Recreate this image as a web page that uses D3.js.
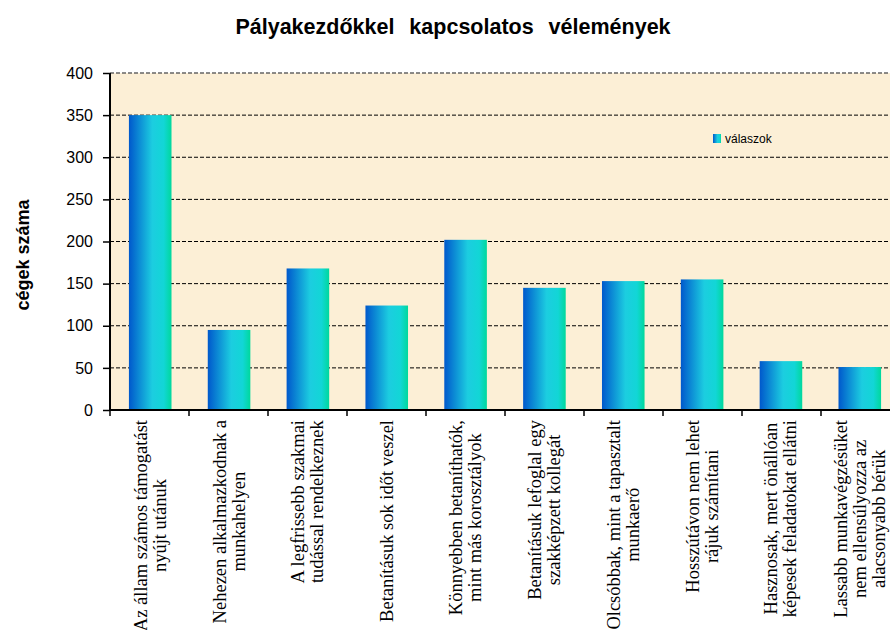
<!DOCTYPE html>
<html>
<head>
<meta charset="utf-8">
<script src="https://cdn.jsdelivr.net/npm/d3@7"></script>
<style>
    body { margin: 0; background: #fff; }
    svg { display: block; }
    .title { font-family: Arial, 'Liberation Sans', sans-serif; font-weight: bold; font-size: 21.5px; word-spacing: 9px; }
    .y-label { font-family: Arial, 'Liberation Sans', sans-serif; font-weight: bold; font-size: 18px; }
    .axis text { font-family: Arial, 'Liberation Sans', sans-serif; font-size: 16px; fill: #000; }
    .axis text.x-label { font-family: 'Times New Roman', 'Liberation Serif', serif; font-size: 18.5px; fill: #000; }
    .legend text { font-family: Arial, 'Liberation Sans', sans-serif; font-size: 12px; }
</style>
</head>
<body>
<svg id="chart" width="890" height="630"></svg>
<script>
/**
 * Data.
 */
const categories = [
    ['Az állam számos támogatást', 'nyújt utánuk'],
    ['Nehezen alkalmazkodnak a', 'munkahelyen'],
    ['A legfrissebb szakmai', 'tudással rendelkeznek'],
    ['Betanításuk sok időt veszel'],
    ['Könnyebben betaníthatók,', 'mint más korosztályok'],
    ['Betanításuk lefoglal egy', 'szakképzett kollegát'],
    ['Olcsóbbak, mint a tapasztalt', 'munkaerő'],
    ['Hosszútávon nem lehet', 'rájuk számítani'],
    ['Hasznosak, mert önállóan', 'képesek feladatokat ellátni'],
    ['Lassabb munkavégzésüket', 'nem ellensúlyozza az', 'alacsonyabb bérük']
];
const values = [350, 95, 168, 124, 202, 145, 153, 155, 58, 51];
const yTicks = [0, 50, 100, 150, 200, 250, 300, 350, 400];
const seriesName = 'válaszok';
const chartTitle = 'Pályakezdőkkel kapcsolatos vélemények';
const yTitle = 'cégek száma';

/**
 * Visual configs.
 */
const margin = { top: 73, right: -10, bottom: 220, left: 110 },
    visWidth = 890, visHeight = 630,
    width = visWidth - margin.left - margin.right,
    height = visHeight - margin.top - margin.bottom,
    lineHeight = 19;

const svg = d3.select('#chart');

// Bar gradient
const defs = svg.append('defs');
const grad = defs.append('linearGradient').attr('id', 'barGrad')
    .attr('x1', '0%').attr('x2', '100%').attr('y1', '0%').attr('y2', '0%');
grad.append('stop').attr('offset', '0%').attr('stop-color', '#0058cc');
grad.append('stop').attr('offset', '55%').attr('stop-color', '#1ccde0');
grad.append('stop').attr('offset', '82%').attr('stop-color', '#12d6d6');
grad.append('stop').attr('offset', '100%').attr('stop-color', '#00d89c');

/**
 * D3 scales.
 */
const xScale = d3.scaleBand()
    .domain(d3.range(values.length))
    .range([0, width])
    .paddingInner(0.46)
    .paddingOuter(0.24);
const yScale = d3.scaleLinear().domain([0, 400]).range([height, 0]);

const g = svg.append('g').attr('transform', 'translate(' + margin.left + ',' + margin.top + ')');

// Plot background
g.append('rect')
    .attr('width', width).attr('height', height)
    .attr('fill', '#fcefd6');

// Grid lines
g.append('g').attr('class', 'grid')
    .selectAll('line')
    .data(yTicks.filter(d => d > 0))
    .join('line')
    .attr('x1', 0).attr('x2', width)
    .attr('y1', d => yScale(d)).attr('y2', d => yScale(d))
    .attr('stroke', d => d === 400 ? '#666' : '#000')
    .attr('stroke-width', d => d === 400 ? 1.5 : 1)
    .attr('stroke-dasharray', '4,2');

// Bars
g.append('g').attr('class', 'bars')
    .selectAll('rect')
    .data(values)
    .join('rect')
    .attr('x', (d, i) => xScale(i))
    .attr('y', d => yScale(d))
    .attr('width', xScale.bandwidth())
    .attr('height', d => height - yScale(d))
    .attr('fill', 'url(#barGrad)');

// Y axis
const yAxis = d3.axisLeft(yScale).tickValues(yTicks).tickSize(7).tickPadding(10);
g.append('g').attr('class', 'axis y-axis')
    .call(yAxis)
    .call(s => s.select('.domain').attr('stroke-width', 2).attr('d', 'M0,0V' + height))
    .call(s => s.selectAll('.tick line').attr('stroke-width', 1.5));

// X axis: ticks on category boundaries
const boundaries = d3.range(values.length + 1).map(i => i * (width / values.length));
const xAxisG = g.append('g').attr('class', 'axis x-axis').attr('transform', 'translate(0,' + height + ')');
xAxisG.append('line').attr('x1', -1).attr('x2', width).attr('stroke', '#000').attr('stroke-width', 2);
xAxisG.selectAll('.tk').data(boundaries).join('line')
    .attr('class', 'tk')
    .attr('x1', d => d).attr('x2', d => d)
    .attr('y1', 0).attr('y2', 6)
    .attr('stroke', '#000').attr('stroke-width', 1.5);

// X labels, rotated, block end aligned under axis, lines centered
const labels = xAxisG.selectAll('.x-label-g')
    .data(categories)
    .join('g')
    .attr('class', 'x-label-g')
    .attr('transform', (d, i) => 'translate(' + (xScale(i) + xScale.bandwidth() / 2) + ',10) rotate(-90)');

labels.each(function(lines) {
    const lg = d3.select(this);
    const n = lines.length;
    const texts = lg.selectAll('text').data(lines).join('text')
        .attr('class', 'x-label')
        .attr('text-anchor', 'middle')
        .attr('y', (d, j) => (j - (n - 1) / 2) * lineHeight + 6)
        .text(d => d);
    let maxLen = 0;
    texts.each(function() { maxLen = Math.max(maxLen, this.getComputedTextLength()); });
    texts.attr('x', -maxLen / 2);
});

// Titles
svg.append('text').attr('class', 'title')
    .attr('x', 453).attr('y', 34)
    .attr('text-anchor', 'middle')
    .text(chartTitle);

svg.append('text').attr('class', 'y-label')
    .attr('transform', 'translate(29,255) rotate(-90)')
    .attr('text-anchor', 'middle')
    .text(yTitle);

// Legend
const legend = svg.append('g').attr('class', 'legend').attr('transform', 'translate(713,134)');
legend.append('rect').attr('width', 8).attr('height', 9).attr('fill', 'url(#barGrad)');
legend.append('text').attr('x', 12).attr('y', 9).text(seriesName);
</script>
</body>
</html>
